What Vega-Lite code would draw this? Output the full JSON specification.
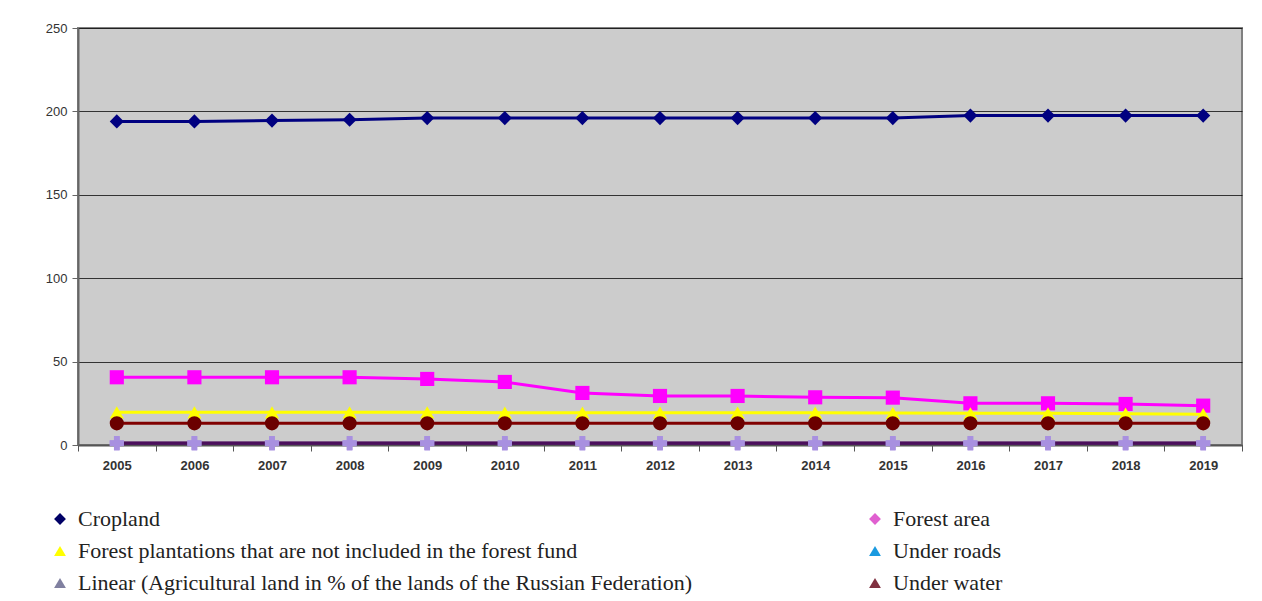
{
  "$schema": "https://vega.github.io/schema/vega-lite/v6.json",
  "width": 1164,
  "height": 417,
  "autosize": {"type": "none"},
  "padding": {"left": 78, "top": 28, "right": 20, "bottom": 156},
  "background": "white",
  "config": {
    "view": {"fill": "#cccccc", "stroke": "#808080", "strokeWidth": 2},
    "axis": {"labelFont": "Liberation Sans", "labelColor": "#333333", "title": null}
  },
  "data": {"values": [
    {"year": 2005, "series": "Cropland", "value": 194},
    {"year": 2006, "series": "Cropland", "value": 194},
    {"year": 2007, "series": "Cropland", "value": 194.5},
    {"year": 2008, "series": "Cropland", "value": 195},
    {"year": 2009, "series": "Cropland", "value": 196},
    {"year": 2010, "series": "Cropland", "value": 196},
    {"year": 2011, "series": "Cropland", "value": 196},
    {"year": 2012, "series": "Cropland", "value": 196},
    {"year": 2013, "series": "Cropland", "value": 196},
    {"year": 2014, "series": "Cropland", "value": 196},
    {"year": 2015, "series": "Cropland", "value": 196},
    {"year": 2016, "series": "Cropland", "value": 197.5},
    {"year": 2017, "series": "Cropland", "value": 197.5},
    {"year": 2018, "series": "Cropland", "value": 197.5},
    {"year": 2019, "series": "Cropland", "value": 197.5},
    {"year": 2005, "series": "Forest area", "value": 40.6},
    {"year": 2006, "series": "Forest area", "value": 40.6},
    {"year": 2007, "series": "Forest area", "value": 40.6},
    {"year": 2008, "series": "Forest area", "value": 40.6},
    {"year": 2009, "series": "Forest area", "value": 39.6},
    {"year": 2010, "series": "Forest area", "value": 37.8},
    {"year": 2011, "series": "Forest area", "value": 31.2},
    {"year": 2012, "series": "Forest area", "value": 29.4},
    {"year": 2013, "series": "Forest area", "value": 29.4},
    {"year": 2014, "series": "Forest area", "value": 28.6},
    {"year": 2015, "series": "Forest area", "value": 28.4},
    {"year": 2016, "series": "Forest area", "value": 25},
    {"year": 2017, "series": "Forest area", "value": 25},
    {"year": 2018, "series": "Forest area", "value": 24.6},
    {"year": 2019, "series": "Forest area", "value": 23.6},
    {"year": 2005, "series": "Forest plantations that are not included in the forest fund", "value": 19.6},
    {"year": 2006, "series": "Forest plantations that are not included in the forest fund", "value": 19.6},
    {"year": 2007, "series": "Forest plantations that are not included in the forest fund", "value": 19.6},
    {"year": 2008, "series": "Forest plantations that are not included in the forest fund", "value": 19.6},
    {"year": 2009, "series": "Forest plantations that are not included in the forest fund", "value": 19.6},
    {"year": 2010, "series": "Forest plantations that are not included in the forest fund", "value": 19.4},
    {"year": 2011, "series": "Forest plantations that are not included in the forest fund", "value": 19.4},
    {"year": 2012, "series": "Forest plantations that are not included in the forest fund", "value": 19.4},
    {"year": 2013, "series": "Forest plantations that are not included in the forest fund", "value": 19.4},
    {"year": 2014, "series": "Forest plantations that are not included in the forest fund", "value": 19.4},
    {"year": 2015, "series": "Forest plantations that are not included in the forest fund", "value": 19.2},
    {"year": 2016, "series": "Forest plantations that are not included in the forest fund", "value": 19},
    {"year": 2017, "series": "Forest plantations that are not included in the forest fund", "value": 19},
    {"year": 2018, "series": "Forest plantations that are not included in the forest fund", "value": 18.8},
    {"year": 2019, "series": "Forest plantations that are not included in the forest fund", "value": 18.5},
    {"year": 2005, "series": "Under roads", "value": 1.2},
    {"year": 2006, "series": "Under roads", "value": 1.2},
    {"year": 2007, "series": "Under roads", "value": 1.2},
    {"year": 2008, "series": "Under roads", "value": 1.2},
    {"year": 2009, "series": "Under roads", "value": 1.2},
    {"year": 2010, "series": "Under roads", "value": 1.2},
    {"year": 2011, "series": "Under roads", "value": 1.2},
    {"year": 2012, "series": "Under roads", "value": 1.2},
    {"year": 2013, "series": "Under roads", "value": 1.2},
    {"year": 2014, "series": "Under roads", "value": 1.2},
    {"year": 2015, "series": "Under roads", "value": 1.2},
    {"year": 2016, "series": "Under roads", "value": 1.2},
    {"year": 2017, "series": "Under roads", "value": 1.2},
    {"year": 2018, "series": "Under roads", "value": 1.2},
    {"year": 2019, "series": "Under roads", "value": 1.2},
    {"year": 2005, "series": "Linear (Agricultural land in % of the lands of the Russian Federation)", "value": 1},
    {"year": 2006, "series": "Linear (Agricultural land in % of the lands of the Russian Federation)", "value": 1},
    {"year": 2007, "series": "Linear (Agricultural land in % of the lands of the Russian Federation)", "value": 1},
    {"year": 2008, "series": "Linear (Agricultural land in % of the lands of the Russian Federation)", "value": 1},
    {"year": 2009, "series": "Linear (Agricultural land in % of the lands of the Russian Federation)", "value": 1},
    {"year": 2010, "series": "Linear (Agricultural land in % of the lands of the Russian Federation)", "value": 1},
    {"year": 2011, "series": "Linear (Agricultural land in % of the lands of the Russian Federation)", "value": 1},
    {"year": 2012, "series": "Linear (Agricultural land in % of the lands of the Russian Federation)", "value": 1},
    {"year": 2013, "series": "Linear (Agricultural land in % of the lands of the Russian Federation)", "value": 1},
    {"year": 2014, "series": "Linear (Agricultural land in % of the lands of the Russian Federation)", "value": 1},
    {"year": 2015, "series": "Linear (Agricultural land in % of the lands of the Russian Federation)", "value": 1},
    {"year": 2016, "series": "Linear (Agricultural land in % of the lands of the Russian Federation)", "value": 1},
    {"year": 2017, "series": "Linear (Agricultural land in % of the lands of the Russian Federation)", "value": 1},
    {"year": 2018, "series": "Linear (Agricultural land in % of the lands of the Russian Federation)", "value": 1},
    {"year": 2019, "series": "Linear (Agricultural land in % of the lands of the Russian Federation)", "value": 1},
    {"year": 2005, "series": "Under water", "value": 13},
    {"year": 2006, "series": "Under water", "value": 13},
    {"year": 2007, "series": "Under water", "value": 13},
    {"year": 2008, "series": "Under water", "value": 13},
    {"year": 2009, "series": "Under water", "value": 13},
    {"year": 2010, "series": "Under water", "value": 13},
    {"year": 2011, "series": "Under water", "value": 13},
    {"year": 2012, "series": "Under water", "value": 13},
    {"year": 2013, "series": "Under water", "value": 13},
    {"year": 2014, "series": "Under water", "value": 13},
    {"year": 2015, "series": "Under water", "value": 13},
    {"year": 2016, "series": "Under water", "value": 13},
    {"year": 2017, "series": "Under water", "value": 13},
    {"year": 2018, "series": "Under water", "value": 13},
    {"year": 2019, "series": "Under water", "value": 13}
  ]},
  "encoding": {
    "x": {
      "field": "year", "type": "ordinal",
      "scale": {"type": "band", "paddingInner": 0, "paddingOuter": 0},
      "axis": {
        "labelAngle": 0, "labelFontWeight": "bold", "labelFontSize": 13,
        "labelPadding": 8, "tickBand": "extent", "tickSize": 6,
        "tickColor": "#555555", "domainColor": "#555555", "domainWidth": 2, "grid": false
      }
    },
    "y": {
      "field": "value", "type": "quantitative",
      "scale": {"domain": [0, 250], "nice": false},
      "axis": {
        "values": [0, 50, 100, 150, 200, 250], "grid": true,
        "gridColor": "#000000", "gridOpacity": 0.75, "gridWidth": 1,
        "domainColor": "#666666", "domainWidth": 2, "tickColor": "#666666",
        "tickSize": 6, "labelFontSize": 13, "labelPadding": 5
      }
    }
  },
  "layer": [
    {
      "mark": {"type": "line", "strokeWidth": 3},
      "encoding": {
        "color": {
          "field": "series", "type": "nominal", "legend": null,
          "scale": {
            "domain": ["Under roads", "Cropland", "Forest area", "Forest plantations that are not included in the forest fund", "Linear (Agricultural land in % of the lands of the Russian Federation)", "Under water"],
            "range": ["#4b0f5c", "#000080", "#ff00ff", "#ffff00", "#4b0f5c", "#800000"]
          }
        },
        "detail": {"field": "series"}
      }
    },
    {
      "mark": {"type": "point", "filled": true, "size": 200, "opacity": 1},
      "encoding": {
        "color": {
          "field": "series", "type": "nominal", "legend": null,
          "scale": {
            "domain": ["Under roads", "Cropland", "Forest area", "Forest plantations that are not included in the forest fund", "Linear (Agricultural land in % of the lands of the Russian Federation)", "Under water"],
            "range": ["#a890e0", "#000080", "#ff00ff", "#ffff00", "#a890e0", "#6b0000"]
          }
        },
        "shape": {
          "field": "series", "type": "nominal", "legend": null,
          "scale": {
            "domain": ["Under roads", "Cropland", "Forest area", "Forest plantations that are not included in the forest fund", "Linear (Agricultural land in % of the lands of the Russian Federation)", "Under water"],
            "range": ["cross", "diamond", "square", "triangle-up", "cross", "circle"]
          }
        }
      }
    },
    {
      "transform": [{"filter": "false"}],
      "mark": {"type": "point", "filled": true, "opacity": 1},
      "encoding": {
        "color": {
          "field": "series", "type": "nominal",
          "scale": {
            "domain": ["Cropland", "Forest plantations that are not included in the forest fund", "Linear (Agricultural land in % of the lands of the Russian Federation)", "Forest area", "Under roads", "Under water"],
            "range": ["#000066", "#ffff00", "#8080a0", "#e060d0", "#1a9ae0", "#803040"]
          },
          "legend": {
            "title": null, "orient": "none", "legendX": -29, "legendY": 480,
            "columns": 2, "columnPadding": 172, "rowPadding": 10, "padding": 0,
            "labelFont": "Liberation Serif", "labelFontSize": 22, "labelColor": "#222222",
            "labelLimit": 0, "labelOffset": 7, "symbolSize": 140, "symbolStrokeWidth": 0
          }
        },
        "shape": {
          "field": "series", "type": "nominal",
          "scale": {
            "domain": ["Cropland", "Forest plantations that are not included in the forest fund", "Linear (Agricultural land in % of the lands of the Russian Federation)", "Forest area", "Under roads", "Under water"],
            "range": ["diamond", "triangle-up", "triangle-up", "diamond", "triangle-up", "triangle-up"]
          },
          "legend": {
            "title": null, "orient": "none", "legendX": -29, "legendY": 480,
            "columns": 2, "columnPadding": 172, "rowPadding": 10, "padding": 0,
            "labelFont": "Liberation Serif", "labelFontSize": 22, "labelColor": "#222222",
            "labelLimit": 0, "labelOffset": 7, "symbolSize": 140, "symbolStrokeWidth": 0
          }
        }
      }
    }
  ],
  "resolve": {"scale": {"color": "independent", "shape": "independent"}}
}
